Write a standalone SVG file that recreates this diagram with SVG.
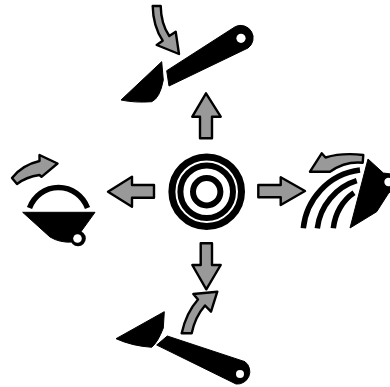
<svg xmlns="http://www.w3.org/2000/svg" width="390" height="387" viewBox="0 0 390 387">
<style>
.a{fill:#999;stroke:#000;stroke-width:2.4;stroke-linejoin:round;filter:url(#s)}
.k{fill:#000;stroke:#000;stroke-width:1;stroke-linejoin:round}
.l{fill:none;stroke:#000;stroke-width:5.500}
.h{fill:#fff}
</style>
<defs><filter id="s" x="-20%" y="-20%" width="140%" height="140%"><feGaussianBlur stdDeviation="0.4"/></filter></defs>
<rect width="390" height="387" fill="#fff"/>
<g id="connectors">
<path class="a" d="M206 93.300L220.700 116.700H212V138.300H200V116.700H192.300Z"/>
<path class="a" d="M108 191.700L132 176.700V185H154V197.700H132V206.700Z"/>
<path class="a" d="M305 191L280.700 177.300V185H258.300V197.300H280.700V205Z"/>
<path class="a" d="M206.300 289.300L192.300 265H200.700V243.300H212V265H220.700Z"/>
</g>
<g id="node-top">
<path class="k" d="M121 100L161.700 61.700L163.300 80Q160 98 151.700 101.700Q135 103 121 100Z"/>
<path class="k" d="M166.700 70.700L235.500 26.500A12.500 12.500 0 0 1 248 48L169 86Z"/>
<circle class="h" cx="241" cy="38.300" r="4.600"/>
<path class="a" d="M152.700 6H160.700Q161 24 169.300 36L175.700 31.700L179 54L156.700 45L162.700 40.700Q153 26 152.700 6Z"/>
</g>
<g id="node-left">
<path class="l" d="M29.500 208C34 196 45 187.500 58.500 187.500C72 187.500 83 196 87.500 208"/>
<path class="k" d="M22.700 212.300H95L80 233L72 242Q60 243 50 237Z"/>
<circle cx="78" cy="238.500" r="7.800"/>
<circle class="h" cx="77.500" cy="238.500" r="4.300"/>
<path class="a" d="M12 178L17 184Q26 177 39.500 175L41.500 176.800L57.500 163.500L39.500 155L39.500 161Q22 165 12 178Z"/>
</g>
<g id="node-center">
<circle cx="206.700" cy="191.700" r="34.800" fill="none" stroke="#000" stroke-width="7"/>
<circle cx="206.700" cy="191.700" r="26.300" fill="none" stroke="#000" stroke-width="6"/>
<circle cx="206.700" cy="191.700" r="13.700" fill="none" stroke="#000" stroke-width="6"/>
</g>
<g id="node-right">
<path class="l" d="M303.300 228.300C306 200 328 174 360 170"/>
<path class="l" d="M317.300 228.300C320 206 336 187 356.700 180.700"/>
<path class="l" d="M333.300 228.300C335 213 343 200 354 192.700"/>
<path class="k" d="M368 159L350 228L376.700 211.700L389 192.500L391 192V174L383.300 173Z"/>
<circle class="h" cx="388.500" cy="182" r="4.200"/>
<path class="a" d="M310 171.700L321.700 153.300L325.500 157.500Q342 152.500 363.300 155L362.700 162.700Q345 161 330 171.700Z"/>
</g>
<g id="node-bottom">
<path class="k" d="M116 338.700L164.300 311.700L163.300 328Q158 342 151.700 347.300Q132 346 116 338.700Z"/>
<path class="k" d="M156.700 345L167.300 336L245 361.700A12.500 12.500 0 0 1 236 384Z"/>
<circle class="h" cx="240" cy="374" r="4"/>
<path class="a" d="M217.300 291.700L193.300 294L198 299.500Q186 313 181.700 333.300H191.700Q195 317 205 305.500L211 311.700Z"/>
</g>
</svg>
